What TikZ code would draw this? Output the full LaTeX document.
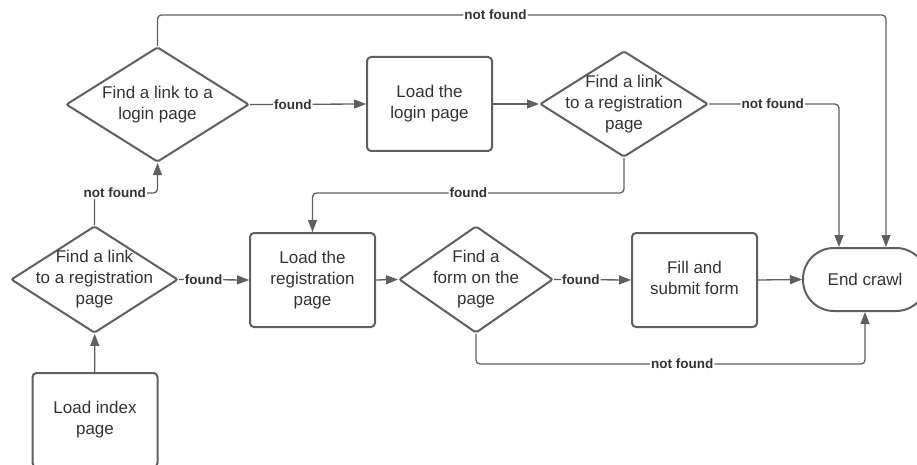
\documentclass[tikz,border=0pt]{standalone}
\usepackage{fontspec}
\setmainfont{Liberation Sans}
\usetikzlibrary{shapes.geometric,arrows.meta}
\definecolor{linegray}{HTML}{5F5F5F}
\definecolor{textgray}{HTML}{333333}

\begin{document}
\begin{tikzpicture}[x=1pt,y=-1pt,
  bodytext/.style={text=textgray, align=center, font=\fontsize{17}{21}\selectfont, inner sep=0pt},
  stepbox/.style={draw=linegray, line width=2pt, rounded corners=4pt,
    minimum width=125pt, minimum height=94pt, bodytext},
  decision/.style={draw=linegray, line width=2pt, diamond, rounded corners=2pt, inner sep=0pt},
  terminal/.style={draw=linegray, line width=2pt, rounded corners=31pt,
    minimum width=124pt, minimum height=63pt, bodytext},
  conn/.style={draw=linegray, line width=1.3pt, rounded corners=4pt,
    -{Triangle[length=12pt,width=9pt]}},
  lbl/.style={fill=white, text=textgray, inner sep=1pt,
    font=\fontsize{13.5}{15}\selectfont\bfseries}]

\useasboundingbox (0,0) rectangle (917,465);

% process steps
\node[stepbox] (index) at (95,420) {Load index\\page};
\node[stepbox] (login) at (429.5,104) {Load the\\login page};
\node[stepbox] (reg) at (312.5,280) {Load the\\registration\\page};
\node[stepbox] (fill) at (694.5,280) {};
\node[bodytext] at ([yshift=2.5pt]fill.center) {Fill and\\submit form};
\node[terminal] (endc) at (865,279.5) {End crawl};

% decisions
\node[decision, minimum width=183pt, minimum height=115pt] (d1) at (157.5,104.5) {};
\node[bodytext] at (d1) {Find a link to a\\login page};
\node[decision, minimum width=168pt, minimum height=106pt] (d2) at (624,104) {};
\node[bodytext] at (d2) {Find a link\\to a registration\\page};
\node[decision, minimum width=167pt, minimum height=107pt] (d3) at (94.5,279.5) {};
\node[bodytext] at (d3) {Find a link\\to a registration\\page};
\node[decision, minimum width=154pt, minimum height=107pt] (d4) at (476,279.5) {};
\node[bodytext] at (d4) {Find a\\form on the\\page};

% connectors
\draw[conn] (index) -- (d3);
\draw[conn] (d3.east) -- node[lbl, pos=0.35] {found} (reg.west);
\draw[conn] (d3.north) -- (d3.north |- 0,193) -- node[lbl, pos=0.32] {not found} (d1.south |- 0,193) -- (d1.south);
\draw[conn] (d1.east) -- node[lbl, pos=0.37] {found} (login.west);
\draw[conn] (d1.north) -- (d1.north |- 0,15) -- node[lbl, pos=0.464] {not found} (886,15) -- (endc.north -| 886,0);
\draw[conn] (login.east) -- (d2.west);
\draw[conn] (d2.east) -- node[lbl, pos=0.49] {not found} (839,104) -- (endc.north -| 839,0);
\draw[conn] (d2.south) -- (d2.south |- 0,193) -- node[lbl] {found} (reg.north |- 0,193) -- (reg.north);
\draw[conn] (reg.east) -- (d4.west);
\draw[conn] (d4.east) -- node[lbl, pos=0.35] {found} (fill.west);
\draw[conn] (d4.south) -- (d4.south |- 0,364) -- node[lbl, pos=0.53] {not found} (endc.south |- 0,364) -- (endc.south);
\draw[conn] (fill.east) -- (endc.west);
\end{tikzpicture}
\end{document}
